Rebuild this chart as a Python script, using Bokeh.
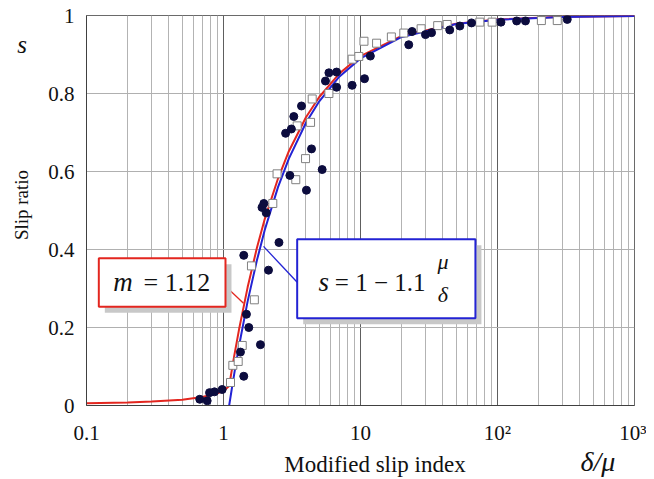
from bokeh.plotting import figure
from bokeh.models import FixedTicker, BoxAnnotation, Label, Div
from bokeh.layouts import row, column
from bokeh.embed import file_html
from bokeh.resources import INLINE

# ---- data ----
circle_x = [0.671, 0.760, 0.791, 0.859, 0.978,
            1.33, 1.406, 1.406, 1.47, 1.53, 1.86, 2.13, 2.54,
            1.91, 1.97, 2.05,
            2.84, 3.05, 3.13, 3.26, 3.71, 4.03, 4.39, 5.25,
            5.55, 5.88, 6.69, 6.69, 8.69, 10.7, 11.8,
            22.5, 23.8, 29.8, 33.0, 44.8, 53.1, 64.6,
            106, 138, 160, 323]
circle_s = [0.016, 0.012, 0.033, 0.035, 0.041,
            0.137, 0.075, 0.385, 0.234, 0.200, 0.156, 0.347, 0.418,
            0.508, 0.518, 0.494,
            0.698, 0.590, 0.709, 0.741, 0.768, 0.552, 0.658, 0.605,
            0.832, 0.853, 0.855, 0.816, 0.821, 0.838, 0.896,
            0.925, 0.959, 0.951, 0.956, 0.963, 0.973, 0.981,
            0.983, 0.986, 0.986, 0.990]

square_x = [1.125, 1.17, 1.28, 1.37, 1.60, 1.68,
            2.29, 2.46, 3.37, 3.45, 3.97, 4.32, 4.44, 5.88,
            8.69, 9.72, 10.6, 13.1, 16.8, 20.7, 27.7, 36.6, 42.9, 74.3, 91.4, 209, 273]
square_s = [0.059, 0.103, 0.113, 0.154, 0.358, 0.271,
            0.518, 0.594, 0.579, 0.717, 0.633, 0.726, 0.786, 0.800,
            0.888, 0.895, 0.934, 0.929, 0.945, 0.955, 0.966, 0.974, 0.977, 0.983, 0.983, 0.987, 0.987]

# red curve (m = 1.12)
red_x = [0.1, 0.2, 0.3, 0.5, 0.7, 0.9, 1.0, 1.1, 1.13, 1.2, 1.3, 1.5, 1.75, 2.0, 2.5,
         3.0, 4.0, 5.0, 7.0, 10, 20, 50, 100, 300, 1000]
red_s = [0.006, 0.008, 0.010, 0.015, 0.022, 0.031, 0.037, 0.050, 0.075, 0.129, 0.196, 0.303,
         0.403, 0.478, 0.582, 0.652, 0.739, 0.791, 0.851, 0.896, 0.948, 0.979, 0.990, 0.997, 0.999]

# blue curve s = 1 - 1.1 mu/delta
blue_x = [1.1, 1.15, 1.2, 1.3, 1.5, 1.75, 2.0, 2.5, 3.0, 4.0, 5.0, 7.0, 10, 20, 50, 100, 300, 1000]
blue_s = [0.0, 0.043, 0.083, 0.154, 0.267, 0.371, 0.450, 0.560, 0.633, 0.725, 0.780, 0.843,
          0.890, 0.945, 0.978, 0.989, 0.996, 0.999]

x_ticks = [0.1, 1, 10, 100, 1000]
x_tick_labels = ["0.1", "1", "10", "10\u00b2", "10\u00b3"]
y_ticks = [0, 0.2, 0.4, 0.6, 0.8, 1.0]
y_tick_labels = ["0", "0.2", "0.4", "0.6", "0.8", "1"]

SERIF = "Liberation Serif"
RED = "#e3261f"
BLUE = "#2323d4"

LEFT_W = 40
p = figure(width=606, height=447, x_axis_type="log", x_range=(0.1, 1000), y_range=(0, 1),
           output_backend="svg", toolbar_location=None,
           min_border_left=46, min_border_right=12, min_border_top=15, min_border_bottom=40)
p.background_fill_color = "white"
p.border_fill_color = "white"
p.outline_line_color = "#6a6a6a"

minor = [m * d for d in [0.1, 1, 10, 100] for m in range(2, 10)]
p.xaxis.ticker = FixedTicker(ticks=x_ticks, minor_ticks=minor)
p.xaxis.major_label_overrides = dict(zip(x_ticks, x_tick_labels))
p.yaxis.ticker = FixedTicker(ticks=y_ticks)
p.yaxis.major_label_overrides = dict(zip(y_ticks, y_tick_labels))

for ax in (p.xaxis, p.yaxis):
    ax.major_tick_line_color = None
    ax.minor_tick_line_color = None
    ax.axis_line_color = "#404040"
    ax.major_label_text_font = SERIF
    ax.major_label_text_font_size = "21px"
    ax.major_label_text_color = "#111111"
p.xaxis.major_label_standoff = 9
p.yaxis.major_label_standoff = 6

p.xgrid.grid_line_color = "#5e5e5e"
p.xgrid.minor_grid_line_color = "#b3b3b3"
p.ygrid.grid_line_color = "#b0b0b0"

p.line(red_x, red_s, line_color=RED, line_width=2)
p.line(blue_x, blue_s, line_color=BLUE, line_width=2)

p.scatter(square_x, square_s, marker="square", size=8, fill_color="white",
          line_color="#808080", line_width=1)
p.scatter(circle_x, circle_s, marker="circle", size=8, fill_color="#0c0c3e",
          line_color="#0c0c3e")

# annotation boxes (with shadows)
sx = 10 ** (6 / 137.0)
sy = 6 / 392.0
red_box = dict(left=0.123, right=1.034, bottom=0.2533, top=0.3776)
blue_box = dict(left=3.45, right=69.0, bottom=0.2237, top=0.426)
for b in (red_box, blue_box):
    p.add_layout(BoxAnnotation(left=b["left"] * sx, right=b["right"] * sx,
                               bottom=b["bottom"] - sy, top=b["top"] - sy,
                               fill_color="#c8c8c8", fill_alpha=1, line_color=None))
p.add_layout(BoxAnnotation(**red_box, fill_color="white", fill_alpha=1,
                           line_color=RED, line_alpha=1, line_width=2))
p.add_layout(BoxAnnotation(**blue_box, fill_color="white", fill_alpha=1,
                           line_color=BLUE, line_alpha=1, line_width=2))

# connectors
p.line([1.034, 1.40], [0.306, 0.262], line_color=RED, line_width=1.3)
p.line([3.45, 1.96], [0.316, 0.408], line_color=BLUE, line_width=1.3)

def lab(x, y, t, size, style="normal", align="left"):
    p.add_layout(Label(x=x, y=y, text=t, text_font=SERIF, text_font_size=size,
                       text_font_style=style, text_align=align, text_baseline="middle",
                       text_color="#111111"))

lab(0.157, 0.316, "m", "27px", "italic")
lab(0.261, 0.316, "= 1.12", "26px")
lab(4.94, 0.316, "s", "27px", "italic")
lab(6.50, 0.316, "= 1 \u2212 1.1", "25px")
lab(40.0, 0.368, "\u03bc", "22px", "italic", "center")
lab(40.0, 0.284, "\u03b4", "22px", "italic", "center")

FONT_CSS = "font-family:'Liberation Serif',serif;color:#111111;"
left_div = Div(
    text=(f'<div style="position:relative;width:{LEFT_W}px;height:473px;{FONT_CSS}">'
          '<span style="position:absolute;left:22px;top:45px;transform:translate(-50%,-50%);'
          'font-style:italic;font-size:25px;white-space:nowrap;">s</span>'
          '<span style="position:absolute;left:22px;top:205px;transform:translate(-50%,-50%) rotate(-90deg);'
          'font-size:19px;white-space:nowrap;">Slip ratio</span></div>'),
    width=LEFT_W, height=473, margin=(0, 0, 0, 0))
bottom_div = Div(
    text=(f'<div style="position:relative;width:606px;height:26px;{FONT_CSS}">'
          '<span style="position:absolute;left:335px;top:18px;transform:translate(-50%,-50%);'
          'font-size:23px;white-space:nowrap;">Modified slip index</span>'
          '<span style="position:absolute;left:558px;top:15px;transform:translate(-50%,-50%);'
          'font-style:italic;font-size:28px;white-space:nowrap;">\u03b4/\u03bc</span></div>'),
    width=606, height=26, margin=(0, 0, 0, 0))

layout = row(left_div, column(p, bottom_div, spacing=0), spacing=0)

open("out.html", "w").write(file_html(layout, INLINE))
